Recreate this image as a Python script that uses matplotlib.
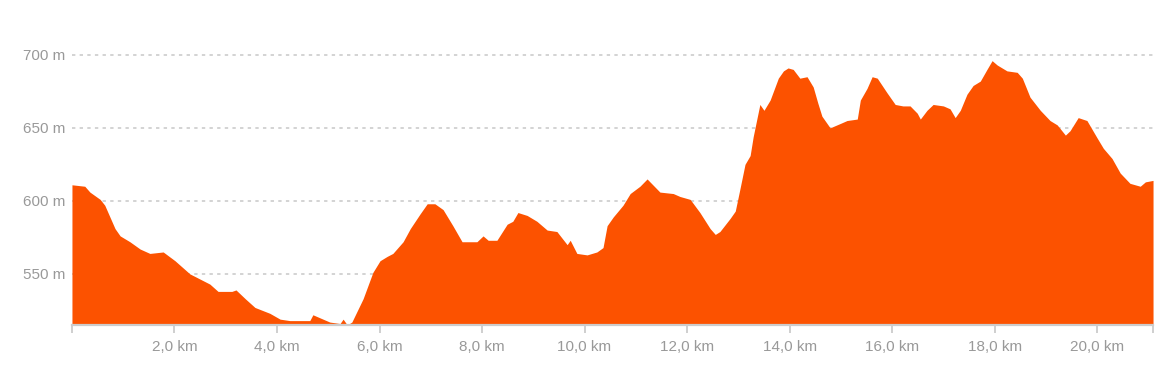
import matplotlib.pyplot as plt
import numpy as np

plt.rcParams['font.family'] = ['Liberation Sans', 'DejaVu Sans']

# elevation profile, distance in km, elevation in m
dist_km = [0.00, 0.25, 0.35, 0.55, 0.64, 0.84, 0.94, 1.13, 1.33, 1.52, 1.78, 2.01,
           2.30, 2.69, 2.85, 3.12, 3.20, 3.38, 3.57, 3.86, 4.06, 4.25, 4.64, 4.70,
           5.03, 5.23, 5.29, 5.37, 5.46, 5.68, 5.87, 6.01, 6.15, 6.26, 6.46, 6.60,
           6.79, 6.93, 7.08, 7.24, 7.43, 7.61, 7.90, 8.02, 8.12, 8.29, 8.49, 8.60,
           8.70, 8.88, 9.07, 9.27, 9.46, 9.66, 9.72, 9.85, 10.05, 10.24, 10.36, 10.44,
           10.56, 10.75, 10.89, 11.08, 11.22, 11.47, 11.73, 11.86, 12.06, 12.25, 12.45,
           12.55, 12.64, 12.84, 12.94, 13.03, 13.13, 13.23, 13.29, 13.42, 13.50, 13.62,
           13.78, 13.88, 13.97, 14.07, 14.20, 14.34, 14.46, 14.55, 14.63, 14.79, 14.99, 15.12, 15.32,
           15.38, 15.51, 15.61, 15.71, 15.90, 16.06, 16.21, 16.35, 16.49, 16.55, 16.68,
           16.80, 17.00, 17.13, 17.23, 17.33, 17.46, 17.58, 17.72, 17.85, 17.95, 18.05,
           18.24, 18.44, 18.54, 18.69, 18.89, 19.08, 19.22, 19.38, 19.47, 19.63, 19.80,
           20.00, 20.12, 20.29, 20.45, 20.64, 20.84, 20.94, 21.09]
elev_m = [611, 610, 606, 601, 597, 581, 576, 572, 567, 564, 565, 559,
          550, 543, 538, 538, 539, 533, 527, 523, 519, 518, 518, 522,
          517, 516, 519, 515, 517, 533, 551, 559, 562, 564, 572, 581,
          591, 598, 598, 594, 583, 572, 572, 576, 573, 573, 584, 586,
          592, 590, 586, 580, 579, 570, 573, 564, 563, 565, 568, 583,
          589, 597, 605, 610, 615, 606, 605, 603, 601, 592, 581,
          577, 579, 588, 593, 608, 625, 631, 644, 666, 662, 669,
          684, 689, 691, 690, 684, 685, 678, 667, 658, 650, 653, 655, 656,
          669, 677, 685, 684, 674, 666, 665, 665, 660, 656, 662,
          666, 665, 663, 657, 662, 673, 679, 682, 690, 696, 693,
          689, 688, 684, 671, 662, 655, 652, 645, 648, 657, 655,
          643, 636, 629, 619, 612, 610, 613, 614]

y_ticks = [550, 600, 650, 700]
x_ticks = [2, 4, 6, 8, 10, 12, 14, 16, 18, 20]

orange = '#fc5200'
grey_txt = '#999999'

fig = plt.figure(figsize=(11.55, 3.71), dpi=100)
ax = fig.add_axes([0.0623, 0.124, 0.936, 0.807])

ax.fill_between(dist_km, elev_m, 500, color=orange, linewidth=0, zorder=2)
ax.set_xlim(0, dist_km[-1])
ax.set_ylim(515, 720)

for y in y_ticks:
    ax.axhline(y, color='#c8c8c8', linewidth=1.1, linestyle=(0, (2.2, 2.8)), zorder=1)

for s in ['top', 'right', 'left']:
    ax.spines[s].set_visible(False)
ax.spines['bottom'].set_color('#cccccc')
ax.spines['bottom'].set_linewidth(1.6)
ax.spines['bottom'].set_zorder(3)

ax.set_yticks(y_ticks)
ax.set_yticklabels([f'{y} m' for y in y_ticks])
ax.tick_params(axis='y', length=0, pad=5, labelsize=11, labelcolor=grey_txt)

ax.set_xticks(x_ticks)
ax.set_xticklabels([f'{x},0 km' for x in x_ticks])
ax.set_xticks([0, dist_km[-1]], minor=True)
ax.tick_params(axis='x', which='both', length=6, width=1.3, color='#cccccc',
               pad=5, labelsize=11, labelcolor=grey_txt)

fig.savefig('out.png', dpi=100, facecolor='white')
